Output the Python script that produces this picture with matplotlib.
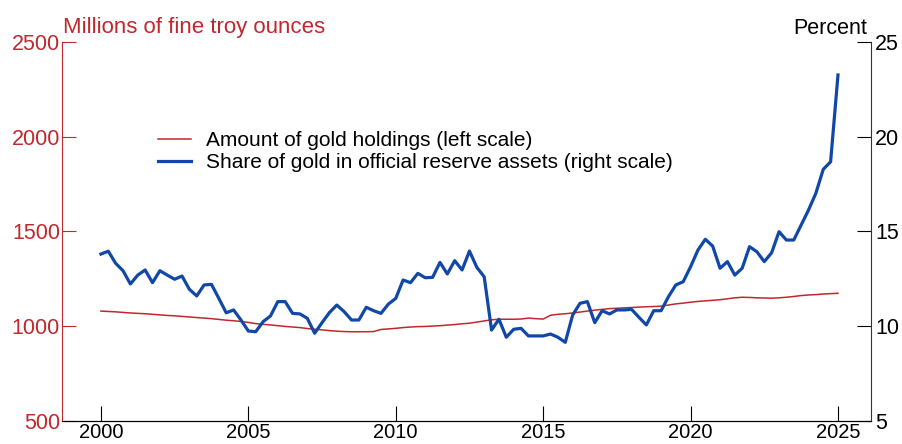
import numpy as np
import matplotlib
matplotlib.use("Agg")
import matplotlib.pyplot as plt

plt.rcParams['font.family'] = ['Liberation Sans', 'DejaVu Sans']

# =========================
# DATA (quarterly, 2000Q1 - 2025Q1)
# =========================
start_year = 2000
gold_holdings = [
    1080, 1078, 1076, 1073,
    1070, 1068, 1066, 1063,
    1060, 1057, 1055, 1052,
    1049, 1046, 1043, 1040,
    1036, 1032, 1029, 1025,
    1020, 1014, 1010, 1007,
    1003, 999, 996, 993,
    988, 984, 981, 977,
    974, 972, 971, 971,
    971, 972, 983, 986,
    989, 993, 996, 998,
    999, 1001, 1003, 1006,
    1009, 1013, 1016, 1022,
    1028, 1034, 1037, 1037,
    1037, 1038, 1043, 1040,
    1038, 1058, 1063, 1066,
    1070, 1075, 1080, 1085,
    1089, 1093, 1095, 1097,
    1099, 1101, 1103, 1104,
    1106, 1112, 1118, 1122,
    1127, 1131, 1134, 1137,
    1140, 1145, 1150, 1153,
    1152, 1150, 1149, 1148,
    1150, 1153, 1157, 1162,
    1165, 1167, 1170, 1172,
    1174,
]
gold_share = [
    13.81, 13.96, 13.32, 12.93,
    12.23, 12.70, 12.97, 12.30,
    12.93, 12.70, 12.48, 12.65,
    11.95, 11.60, 12.18, 12.21,
    11.47, 10.71, 10.86, 10.33,
    9.75, 9.71, 10.24, 10.54,
    11.30, 11.30, 10.68, 10.65,
    10.42, 9.63, 10.19, 10.72,
    11.12, 10.77, 10.33, 10.33,
    11.00, 10.82, 10.68, 11.17,
    11.47, 12.44, 12.30, 12.79,
    12.56, 12.58, 13.37, 12.76,
    13.46, 12.97, 13.97, 13.11,
    12.61, 9.80, 10.37, 9.42,
    9.84, 9.89, 9.49, 9.49,
    9.49, 9.59, 9.42, 9.15,
    10.59, 11.21, 11.30, 10.19,
    10.82, 10.65, 10.86, 10.86,
    10.89, 10.47, 10.07, 10.82,
    10.82, 11.56, 12.18, 12.35,
    13.14, 14.02, 14.59, 14.23,
    13.06, 13.41, 12.70, 13.06,
    14.20, 13.93, 13.41, 13.88,
    14.99, 14.55, 14.55, 15.34,
    16.13, 17.02, 18.28, 18.68,
    23.26,
]
x_ticks = [2000, 2005, 2010, 2015, 2020, 2025]
left_ticks = [500, 1000, 1500, 2000, 2500]
right_ticks = [5, 10, 15, 20, 25]

dates = start_year + np.arange(len(gold_holdings)) * 0.25

RED = "#c0282d"
BLUE = "#1148a8"
FS = 15.5

# =========================
# PLOT
# =========================
fig = plt.figure(figsize=(9.02, 4.44), dpi=100)
ax = fig.add_axes([62/902, 1 - 421/444, (871-62)/902, (421-42)/444])
ax2 = ax.twinx()

ax.plot(dates, gold_holdings, color=RED, lw=1.1, label="Amount of gold holdings (left scale)")
ax2.plot(dates, gold_share, color=BLUE, lw=2.3, label="Share of gold in official reserve assets (right scale)")

ax.set_xlim(1998.68, 2026.12)
ax.set_ylim(500, 2500)
ax2.set_ylim(5, 25)

ax.set_xticks(x_ticks)
ax.set_yticks(left_ticks)
ax2.set_yticks(right_ticks)

ax.tick_params(axis="x", direction="in", length=11, width=0.8, labelsize=14.5, pad=1.5)
ax.tick_params(axis="y", direction="in", length=10, width=0.8, colors=RED, labelsize=FS, pad=1.5)
ax2.tick_params(axis="y", direction="in", length=10, width=0.8, labelsize=FS, pad=3)

for a in (ax, ax2):
    a.spines["top"].set_visible(False)
ax.spines["left"].set_color(RED)
ax2.spines["left"].set_visible(False)
ax2.spines["right"].set_color("#333333")
ax.spines["right"].set_visible(False)

fig.text(63/902, 1 - 28/444, "Millions of fine troy ounces", color=RED, fontsize=16,
         ha="left", va="center")
fig.text(867/902, 1 - 28/444, "Percent", color="black", fontsize=FS,
         ha="right", va="center")

h1, l1 = ax.get_legend_handles_labels()
h2, l2 = ax2.get_legend_handles_labels()
fig.legend(h1 + h2, l1 + l2, loc="upper left", bbox_to_anchor=(158/902, 1 - 131/444),
           frameon=False, fontsize=15, handlelength=1.6, handletextpad=0.7,
           labelspacing=0.15, borderpad=0, borderaxespad=0)

fig.savefig("out.png", dpi=100)
